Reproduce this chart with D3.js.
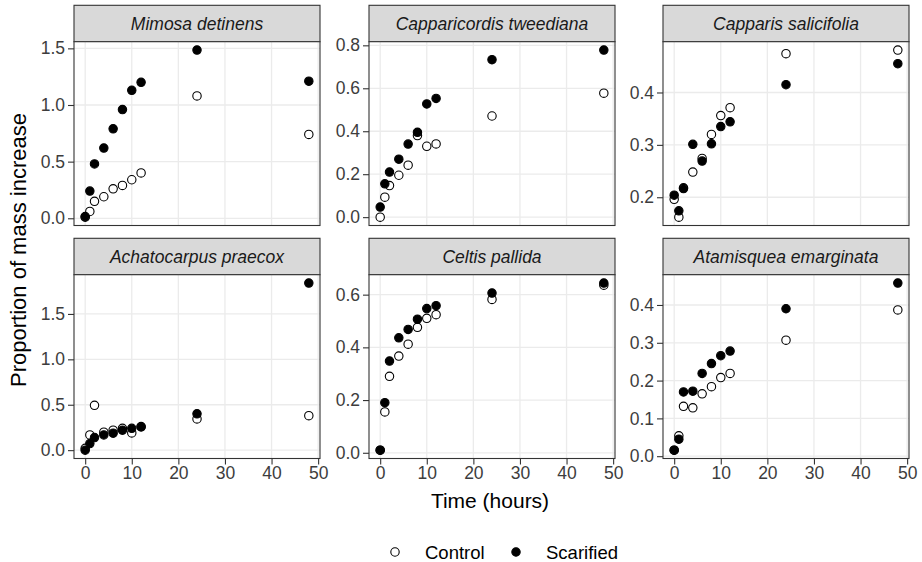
<!DOCTYPE html>
<html>
<head>
<meta charset="utf-8">
<script src="https://cdn.jsdelivr.net/npm/d3@7"></script>
<style>
  body { margin: 0; background: #fff; }
  svg { font-family: "Liberation Sans", Arial, sans-serif; }
</style>
</head>
<body>
<div id="wrapper"></div>
<script>
// sampling times (hours)
const times = [0, 1, 2, 4, 6, 8, 10, 12, 24, 48];

const species = [
    "Mimosa detinens", "Capparicordis tweediana", "Capparis salicifolia",
    "Achatocarpus praecox", "Celtis pallida", "Atamisquea emarginata",
];

// proportion of mass increase, one value per time
const mimosaControl = [0.01, 0.06, 0.15, 0.19, 0.26, 0.29, 0.34, 0.40, 1.08, 0.74];
const mimosaScarified = [0.015, 0.24, 0.48, 0.62, 0.79, 0.96, 1.13, 1.20, 1.485, 1.21];
const capparicordisControl = [0.0, 0.093, 0.147, 0.195, 0.242, 0.38, 0.33, 0.341, 0.471, 0.577];
const capparicordisScarified = [0.047, 0.155, 0.21, 0.27, 0.34, 0.395, 0.527, 0.553, 0.733, 0.778];
const capparisControl = [0.196, 0.162, 0.218, 0.248, 0.274, 0.32, 0.356, 0.371, 0.474, 0.481];
const capparisScarified = [0.204, 0.174, 0.2165, 0.301, 0.269, 0.302, 0.335, 0.344, 0.415, 0.455];
const achatocarpusControl = [0.02, 0.168, 0.494, 0.198, 0.22, 0.24, 0.19, 0.26, 0.344, 0.38];
const achatocarpusScarified = [0.0, 0.073, 0.139, 0.168, 0.187, 0.22, 0.24, 0.256, 0.40, 1.84];
const celtisControl = [0.01, 0.155, 0.29, 0.367, 0.412, 0.476, 0.51, 0.524, 0.582, 0.636];
const celtisScarified = [0.01, 0.19, 0.348, 0.436, 0.468, 0.507, 0.547, 0.558, 0.606, 0.644];
const atamisqueaControl = [0.016, 0.054, 0.132, 0.128, 0.165, 0.184, 0.208, 0.219, 0.307, 0.387];
const atamisqueaScarified = [0.016, 0.045, 0.17, 0.172, 0.219, 0.245, 0.266, 0.278, 0.39, 0.458];

const controlSeries = [mimosaControl, capparicordisControl, capparisControl,
    achatocarpusControl, celtisControl, atamisqueaControl];
const scarifiedSeries = [mimosaScarified, capparicordisScarified, capparisScarified,
    achatocarpusScarified, celtisScarified, atamisqueaScarified];

const yTicks = [
    [0, 0.5, 1.0, 1.5],
    [0, 0.2, 0.4, 0.6, 0.8],
    [0.2, 0.3, 0.4],
    [0, 0.5, 1.0, 1.5],
    [0, 0.2, 0.4, 0.6],
    [0, 0.1, 0.2, 0.3, 0.4],
];
const xTicks = [0, 10, 20, 30, 40, 50];
const treatments = ["Control", "Scarified"];

const dims = {
    width: 922,
    height: 562,
    panelLefts: [74, 369, 663],
    panelWidth: 246,
    rowTops: [5.3, 238.3],
    stripHeight: 36.4,
    plotHeight: 183.8,
};

const svg = d3.select("#wrapper")
    .append("svg")
        .attr("width", dims.width)
        .attr("height", dims.height);

const xScale = d3.scaleLinear()
    .domain([-2.4, 50.4])
    .range([0, dims.panelWidth]);

species.forEach((name, i) => {
    const col = i % 3;
    const row = Math.floor(i / 3);
    const left = dims.panelLefts[col];
    const top = dims.rowTops[row];

    const all = controlSeries[i].concat(scarifiedSeries[i]);
    const [lo, hi] = d3.extent(all);
    const pad = (hi - lo) * 0.05;
    const yScale = d3.scaleLinear()
        .domain([lo - pad, hi + pad])
        .range([dims.plotHeight, 0]);

    const g = svg.append("g")
        .attr("transform", `translate(${left}, ${top})`);

    // strip
    g.append("rect")
        .attr("width", dims.panelWidth)
        .attr("height", dims.stripHeight)
        .attr("fill", "#d9d9d9")
        .attr("stroke", "#333")
        .attr("stroke-width", 1.1);
    g.append("text")
        .attr("x", dims.panelWidth / 2)
        .attr("y", dims.stripHeight / 2 + 6.5)
        .attr("text-anchor", "middle")
        .attr("font-size", 17.5)
        .attr("font-style", "italic")
        .attr("fill", "#1a1a1a")
        .text(name);

    const bounds = g.append("g")
        .attr("transform", `translate(0, ${dims.stripHeight})`);

    bounds.append("rect")
        .attr("width", dims.panelWidth)
        .attr("height", dims.plotHeight)
        .attr("fill", "#fff");

    // grid
    bounds.selectAll(".gx").data(xTicks).join("line")
        .attr("x1", d => xScale(d)).attr("x2", d => xScale(d))
        .attr("y1", 0).attr("y2", dims.plotHeight)
        .attr("stroke", "#ebebeb").attr("stroke-width", 1.3);
    bounds.selectAll(".gy").data(yTicks[i]).join("line")
        .attr("x1", 0).attr("x2", dims.panelWidth)
        .attr("y1", d => yScale(d)).attr("y2", d => yScale(d))
        .attr("stroke", "#ebebeb").attr("stroke-width", 1.3);

    // y axis
    const yAxis = bounds.append("g")
        .call(d3.axisLeft(yScale)
            .tickValues(yTicks[i])
            .tickFormat(d3.format(".1f"))
            .tickSize(6)
            .tickPadding(3));
    yAxis.select(".domain").remove();
    yAxis.selectAll("line").attr("stroke", "#333").attr("stroke-width", 1.1);
    yAxis.selectAll("text")
        .attr("font-size", 17.5)
        .attr("fill", "#3d3d3d")
        .attr("font-family", "Liberation Sans, Arial, sans-serif");

    if (row === 1) {
        const xAxis = bounds.append("g")
            .attr("transform", `translate(0, ${dims.plotHeight})`)
            .call(d3.axisBottom(xScale)
                .tickValues(xTicks)
                .tickSize(6)
                .tickPadding(2));
        xAxis.select(".domain").remove();
        xAxis.selectAll("line").attr("stroke", "#333").attr("stroke-width", 1.1);
        xAxis.selectAll("text")
            .attr("font-size", 17.5)
            .attr("fill", "#3d3d3d")
            .attr("font-family", "Liberation Sans, Arial, sans-serif");
    }

    // points: control first, scarified drawn on top
    [controlSeries[i], scarifiedSeries[i]].forEach((values, s) => {
        bounds.append("g").selectAll("circle")
            .data(values.map((v, k) => ({ t: times[k], v })))
            .join("circle")
                .attr("cx", d => xScale(d.t))
                .attr("cy", d => yScale(d.v))
                .attr("r", 4.2)
                .attr("fill", s === 0 ? "#fff" : "#000")
                .attr("stroke", "#000")
                .attr("stroke-width", 1.1);
    });

    // panel border
    bounds.append("rect")
        .attr("width", dims.panelWidth)
        .attr("height", dims.plotHeight)
        .attr("fill", "none")
        .attr("stroke", "#333")
        .attr("stroke-width", 1.1);
});

// axis titles
svg.append("text")
    .attr("x", 490)
    .attr("y", 508)
    .attr("text-anchor", "middle")
    .attr("font-size", 21)
    .text("Time (hours)");

svg.append("text")
    .attr("transform", "translate(26, 250) rotate(-90)")
    .attr("text-anchor", "middle")
    .attr("font-size", 22)
    .text("Proportion of mass increase");

// legend
const legendX = [395, 516];
treatments.forEach((label, s) => {
    svg.append("circle")
        .attr("cx", legendX[s])
        .attr("cy", 552)
        .attr("r", 4.2)
        .attr("fill", s === 0 ? "#fff" : "#000")
        .attr("stroke", "#000")
        .attr("stroke-width", 1.1);
    svg.append("text")
        .attr("x", legendX[s] + 30)
        .attr("y", 559)
        .attr("font-size", 18.5)
        .text(label);
});
</script>
</body>
</html>
